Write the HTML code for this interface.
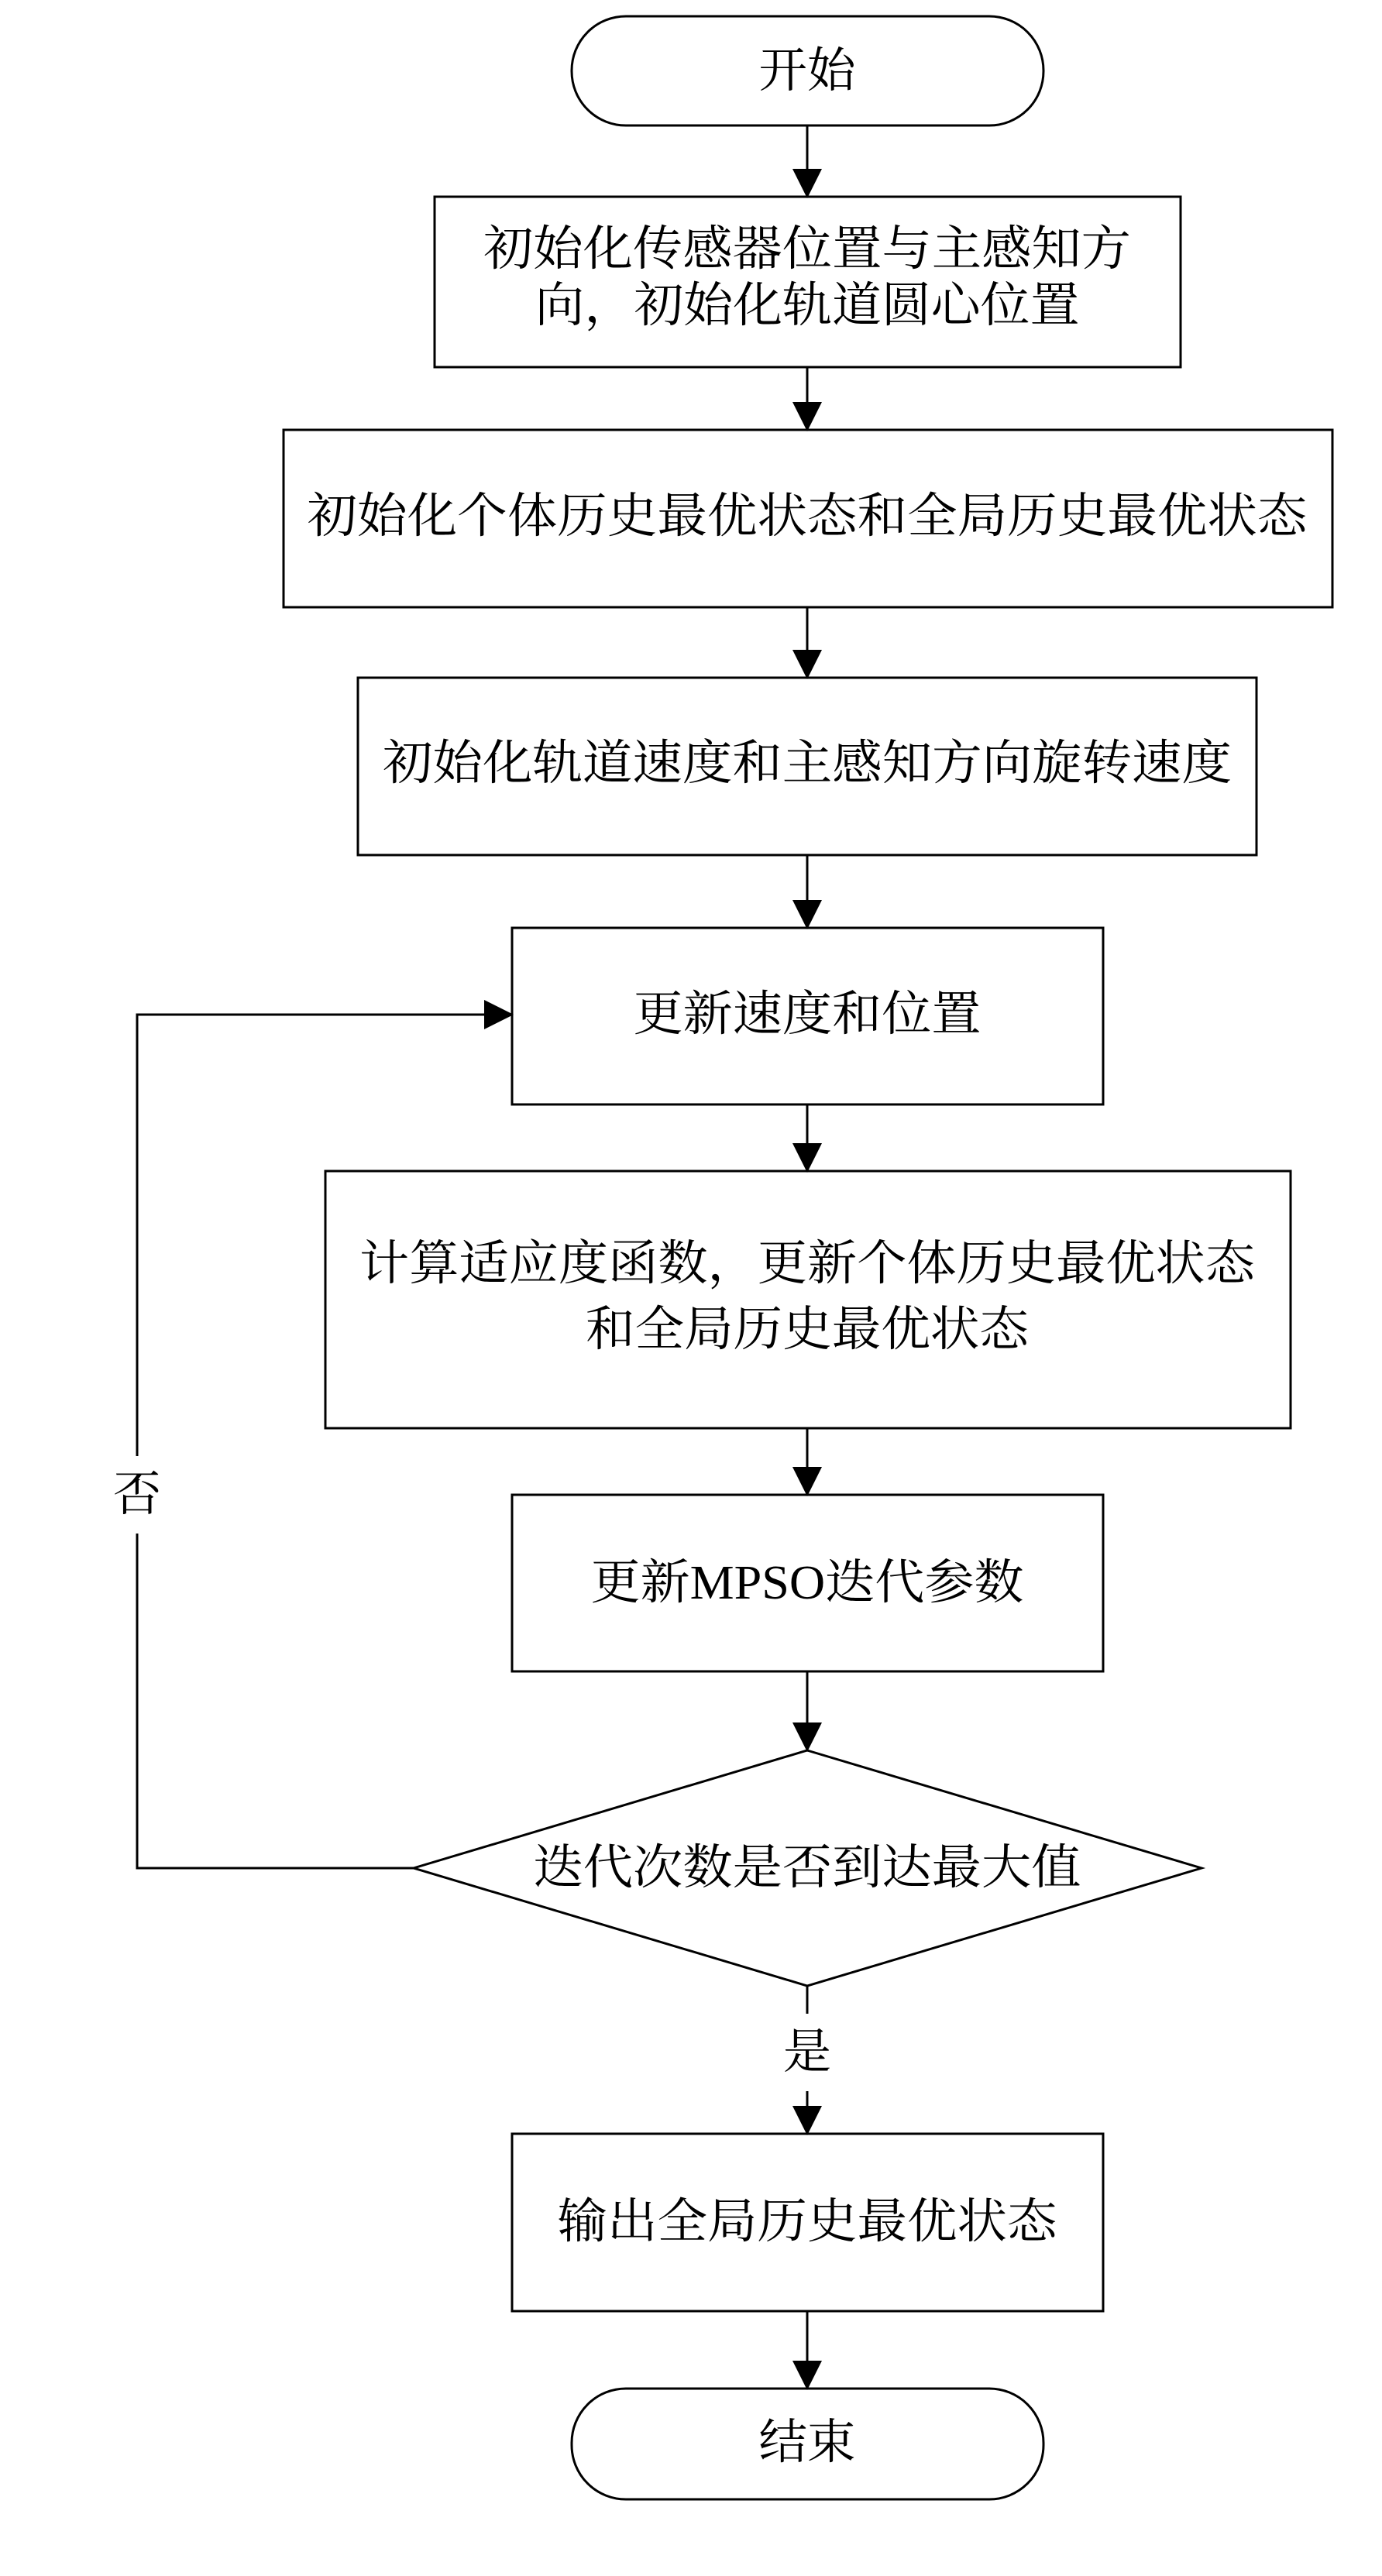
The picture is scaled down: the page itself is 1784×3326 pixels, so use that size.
<!DOCTYPE html>
<html><head><meta charset="utf-8"><style>html,body{margin:0;padding:0;background:#fff}svg{display:block}</style></head>
<body>
<svg width="1784" height="3326" viewBox="0 0 1784 3326" xmlns="http://www.w3.org/2000/svg">
<defs><marker id="a" markerWidth="40" markerHeight="50" refX="36" refY="19" orient="auto" markerUnits="userSpaceOnUse"><path d="M0,0 L38,19 L0,38 z" fill="#000"/></marker></defs>
<g fill="none" stroke="#000" stroke-width="3">
<rect x="738" y="21" width="609" height="141" rx="70" ry="70"/>
<rect x="561" y="254" width="963" height="220"/>
<rect x="366" y="555" width="1354" height="229"/>
<rect x="462" y="875" width="1160" height="229"/>
<rect x="661" y="1198" width="763" height="228"/>
<rect x="420" y="1512" width="1246" height="332"/>
<rect x="661" y="1930" width="763" height="228"/>
<polygon points="1042,2260 1551,2412 1042,2564 534,2412"/>
<rect x="661" y="2755" width="763" height="229"/>
<rect x="738" y="3084" width="609" height="143" rx="70" ry="70"/>
<g marker-end="url(#a)">
<line x1="1042" y1="162" x2="1042" y2="254"/>
<line x1="1042" y1="474" x2="1042" y2="555"/>
<line x1="1042" y1="784" x2="1042" y2="875"/>
<line x1="1042" y1="1104" x2="1042" y2="1198"/>
<line x1="1042" y1="1426" x2="1042" y2="1512"/>
<line x1="1042" y1="1844" x2="1042" y2="1930"/>
<line x1="1042" y1="2158" x2="1042" y2="2260"/>
<line x1="1042" y1="2700" x2="1042" y2="2755"/>
<line x1="1042" y1="2984" x2="1042" y2="3084"/>
<polyline points="177,1880 177,1310 661,1310"/>
</g>
<line x1="1042" y1="2564" x2="1042" y2="2600"/>
<polyline points="534,2412 177,2412 177,1980"/>
</g>
<g font-family="'Liberation Serif','Noto Serif CJK SC',serif" font-size="62" fill="#000" text-anchor="middle" dominant-baseline="central" lengthAdjust="spacingAndGlyphs">
<text x="1042" y="92" textLength="125" lengthAdjust="spacingAndGlyphs">开始</text>
<text x="1042" y="322" textLength="836" lengthAdjust="spacingAndGlyphs">初始化传感器位置与主感知方</text>
<text x="1042" y="395" textLength="703" lengthAdjust="spacingAndGlyphs">向，初始化轨道圆心位置</text>
<text x="1042" y="667" textLength="1291" lengthAdjust="spacingAndGlyphs">初始化个体历史最优状态和全局历史最优状态</text>
<text x="1042" y="986" textLength="1096" lengthAdjust="spacingAndGlyphs">初始化轨道速度和主感知方向旋转速度</text>
<text x="1042" y="1310" textLength="449" lengthAdjust="spacingAndGlyphs">更新速度和位置</text>
<text x="1042" y="1632" textLength="1156" lengthAdjust="spacingAndGlyphs">计算适应度函数，更新个体历史最优状态</text>
<text x="1042" y="1717" textLength="572" lengthAdjust="spacingAndGlyphs">和全局历史最优状态</text>
<text x="1042" y="2044" textLength="559" lengthAdjust="spacingAndGlyphs">更新MPSO迭代参数</text>
<text x="1042" y="2412" textLength="707" lengthAdjust="spacingAndGlyphs">迭代次数是否到达最大值</text>
<text x="1042" y="2869" textLength="645" lengthAdjust="spacingAndGlyphs">输出全局历史最优状态</text>
<text x="1042" y="3154" textLength="125" lengthAdjust="spacingAndGlyphs">结束</text>
<text x="177" y="1930">否</text>
<text x="1042" y="2650">是</text>
</g>
</svg>
</body></html>
